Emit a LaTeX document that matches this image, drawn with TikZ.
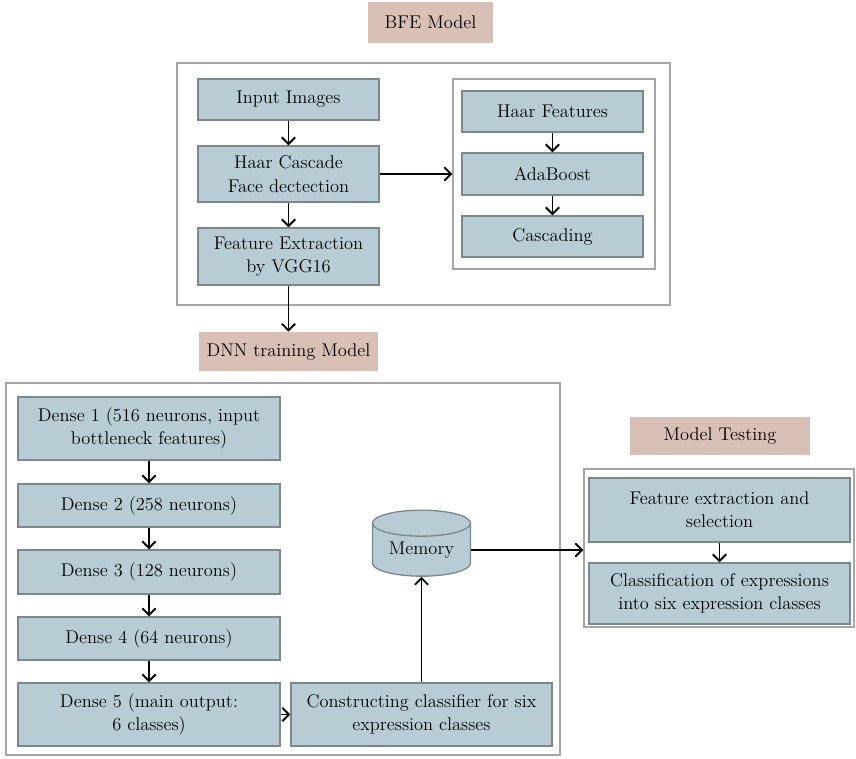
\documentclass[tikz,border=0pt]{standalone}
\usetikzlibrary{shapes.geometric,arrows.meta}
\definecolor{boxblue}{RGB}{184,204,214}
\definecolor{boxedge}{RGB}{125,136,142}
\definecolor{tagtan}{RGB}{216,192,182}
\definecolor{framegray}{RGB}{165,165,165}

\begin{document}
\begin{tikzpicture}[x=0.75pt,y=-0.75pt,
  font=\fontsize{13.8}{17.5}\selectfont,
  blk/.style={draw=boxedge,line width=1pt,fill=boxblue,align=center,inner sep=0pt},
  tag/.style={fill=tagtan,draw=none,inner sep=0pt},
  frame/.style={draw=framegray,line width=1pt,inner sep=0pt},
  arr/.style={-{Straight Barb[length=5pt,width=10pt]},line width=1.4pt}]
  \useasboundingbox (0,0) rectangle (856,759);
  \node[frame,minimum width=369.75pt,minimum height=181.5pt] (bfeframe) at (423.5,184) {};
  \node[frame,minimum width=151.5pt,minimum height=142.5pt] (haarframe) at (554,174) {};
  \node[frame,minimum width=415.5pt,minimum height=279pt] (dnnframe) at (283,569) {};
  \node[frame,minimum width=202.5pt,minimum height=118.5pt] (testframe) at (719,548) {};
  \node[tag,minimum width=93.75pt,minimum height=30.75pt] (bfe) at (430.5,22.5) {BFE Model};
  \node[tag,minimum width=134.25pt,minimum height=29.25pt] (dnn) at (288.5,351.5) {DNN training Model};
  \node[tag,minimum width=135pt,minimum height=28.5pt] (test) at (720,436) {Model Testing};
  \node[blk,minimum width=135.75pt,minimum height=30.75pt] (input) at (288.5,99.5) {Input Images};
  \node[blk,minimum width=135.75pt,minimum height=42pt] (haar) at (288.5,174) {Haar Cascade\\Face dectection};
  \node[blk,minimum width=135.75pt,minimum height=42.75pt] (vgg) at (288.5,256.5) {Feature Extraction\\by VGG16};
  \node[blk,minimum width=135.75pt,minimum height=30.75pt] (haarf) at (552.5,111.5) {Haar Features};
  \node[blk,minimum width=135.75pt,minimum height=31.5pt] (ada) at (552.5,174) {AdaBoost};
  \node[blk,minimum width=135.75pt,minimum height=30.75pt] (casc) at (552.5,236.5) {Cascading};
  \node[blk,minimum width=196.5pt,minimum height=47.25pt] (d1) at (149,428.5) {Dense 1 (516 neurons, input\\bottleneck features)};
  \node[blk,minimum width=196.5pt,minimum height=32.25pt] (d2) at (149,505.5) {Dense 2 (258 neurons)};
  \node[blk,minimum width=196.5pt,minimum height=33pt] (d3) at (149,572) {Dense 3 (128 neurons)};
  \node[blk,minimum width=196.5pt,minimum height=32.25pt] (d4) at (149,638.5) {Dense 4 (64 neurons)};
  \node[blk,minimum width=196.5pt,minimum height=47.25pt] (d5) at (149,714.5) {Dense 5 (main output:\\6 classes)};
  \node[blk,minimum width=195.75pt,minimum height=47.25pt] (cons) at (421.5,714.5) {Constructing classifier for six\\expression classes};
  \node[blk,shape=cylinder,shape border rotate=90,aspect=0.4,minimum width=73.5pt,minimum height=49.5pt] (mem) at (421.5,550) {Memory};
  \node[blk,minimum width=195.75pt,minimum height=48pt] (fes) at (719.5,510) {Feature extraction and\\selection};
  \node[blk,minimum width=195.75pt,minimum height=45.75pt] (cls) at (719.5,593.5) {Classification of expressions\\into six expression classes};
  \draw[arr] (input) -- (haar);
  \draw[arr] (haar) -- (vgg);
  \draw[arr] (haar) -- (haarframe);
  \draw[arr] (haarf) -- (ada);
  \draw[arr] (ada) -- (casc);
  \draw[arr] (vgg) -- (dnn);
  \draw[arr] (d1) -- (d2);
  \draw[arr] (d2) -- (d3);
  \draw[arr] (d3) -- (d4);
  \draw[arr] (d4) -- (d5);
  \draw[arr] (d5) -- (cons);
  \draw[arr] (cons) -- (mem);
  \draw[arr] (mem.east) -- (mem.east -| testframe.west);
  \draw[arr] (fes) -- (cls);
\end{tikzpicture}
\end{document}
